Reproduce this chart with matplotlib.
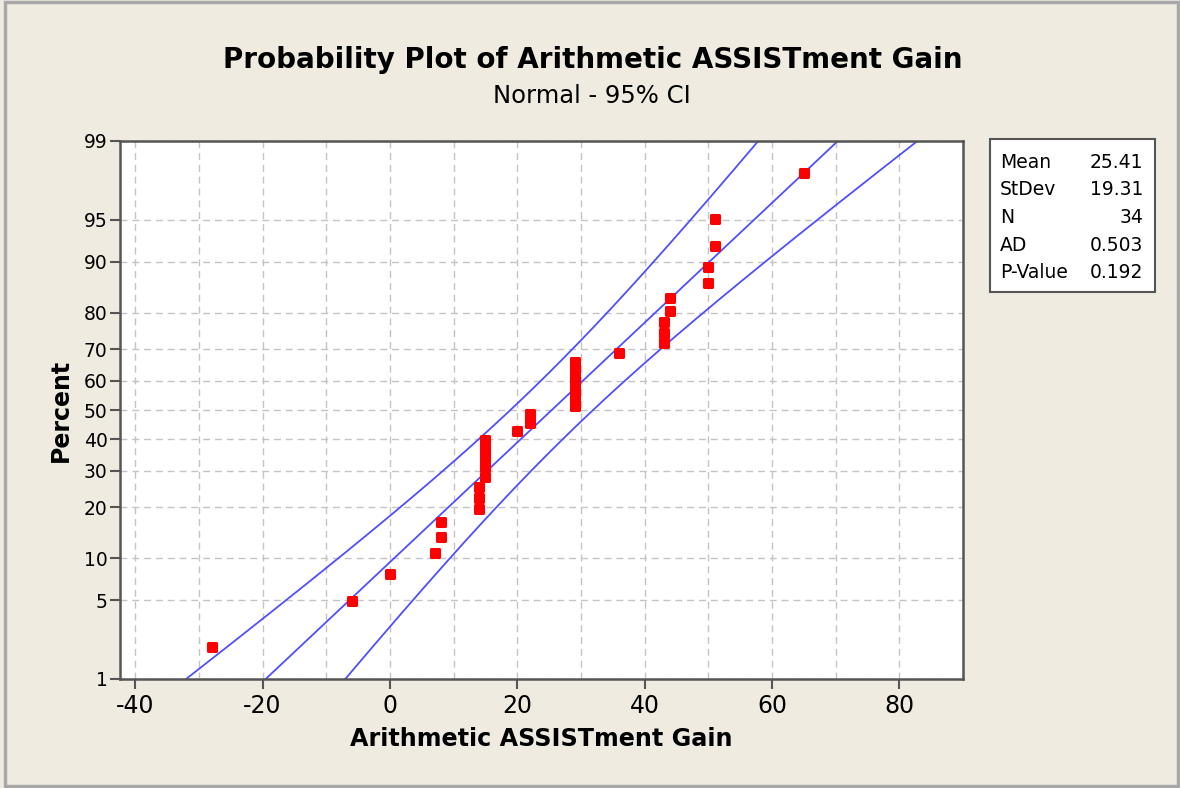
import numpy as np
import matplotlib
matplotlib.use('Agg')
import matplotlib.pyplot as plt
from matplotlib.patches import Rectangle
from matplotlib.markers import MarkerStyle
from statistics import NormalDist

# data
gain = [-28, -6, 0, 7, 8, 8, 14, 14, 14, 15, 15, 15, 15, 15, 20, 22, 22,
        29, 29, 29, 29, 29, 29, 36, 43, 43, 43, 44, 44, 50, 50, 51, 51, 65]
pct_ticks = [1, 5, 10, 20, 30, 40, 50, 60, 70, 80, 90, 95, 99]
x_ticks = [-40, -20, 0, 20, 40, 60, 80]
x_grid = [-40, -30, -20, -10, 0, 10, 20, 30, 40, 50, 60, 70, 80]
stat_names = ['Mean', 'StDev', 'N', 'AD', 'P-Value']
stat_values = ['25.41', '19.31', '34', '0.503', '0.192']

plt.rcParams['font.family'] = ['DejaVu Sans']
plt.rcParams['axes.unicode_minus'] = False

bg = '#EFEBE1'
blue = '#4F4FFF'
frame = '#555555'

# normal probability scale
nd = NormalDist()
_ppf = np.vectorize(nd.inv_cdf, otypes=[float])
_cdf = np.vectorize(nd.cdf, otypes=[float])

def fwd(p):
    p = np.clip(np.asarray(p, dtype=float) / 100.0, 1e-12, 1 - 1e-12)
    return _ppf(p)

def inv(z):
    return _cdf(np.asarray(z, dtype=float)) * 100.0

x = np.array(gain, dtype=float)
n = len(x)
mu = x.mean()
sd = x.std(ddof=1)
ranks = (np.arange(1, n + 1) - 0.3) / (n + 0.4) * 100   # median ranks

z = np.linspace(fwd(pct_ticks[0]), fwd(pct_ticks[-1]), 300)
pz = inv(z)
fit = mu + z * sd
half = nd.inv_cdf(0.975) * sd * np.sqrt(1.0 / n + z ** 2 / (2.0 * n))

fig = plt.figure(figsize=(11.8, 7.88), dpi=100, facecolor=bg)
fig.patches.append(Rectangle((0.004, 0.002), 0.994, 0.995, transform=fig.transFigure,
                             fill=False, edgecolor='#A8A8A8', linewidth=2.5))

ax = fig.add_axes([120 / 1180, 1 - 679 / 788, 843 / 1180, 538 / 788])
ax.set_yscale('function', functions=(fwd, inv))
ax.set_xlim(-42.4, 90)
ax.set_ylim(1, 99)

ax.set_xticks(x_ticks)
ax.set_xticks(x_grid, minor=True)
ax.set_yticks(pct_ticks)
ax.set_yticklabels([str(p) for p in pct_ticks])
ax.yaxis.set_minor_locator(matplotlib.ticker.NullLocator())
ax.tick_params(axis='x', which='major', labelsize=17, length=7, width=1.5, color=frame, pad=4)
ax.tick_params(axis='x', which='minor', length=0)
ax.tick_params(axis='y', labelsize=13.5, length=7, width=1.5, color=frame, pad=2)
for s in ax.spines.values():
    s.set_color(frame)
    s.set_linewidth(1.8)

ax.grid(True, axis='x', which='both', color='#C4C4C4', linestyle=(0, (5, 3.5)), linewidth=1)
ax.grid(True, axis='y', which='major', color='#C4C4C4', linestyle=(0, (5, 3.5)), linewidth=1)
ax.set_axisbelow(True)

ax.plot(fit, pz, color=blue, linewidth=1.3)
ax.plot(fit - half, pz, color=blue, linewidth=1.3)
ax.plot(fit + half, pz, color=blue, linewidth=1.3)
ax.plot(x, ranks, linestyle='none', marker=MarkerStyle('s', joinstyle='round'),
        markersize=5.5, color='#FF0000', markeredgecolor='#FF0000', markeredgewidth=2.2,
        zorder=5)

ax.set_xlabel('Arithmetic ASSISTment Gain', fontsize=17.2, fontweight='bold', labelpad=6)
ax.set_ylabel('Percent', fontsize=17, fontweight='bold', labelpad=8)

fig.text(0.502, 0.924, 'Probability Plot of Arithmetic ASSISTment Gain', ha='center', va='center',
         fontsize=20, fontweight='bold')
fig.text(0.502, 0.878, 'Normal - 95% CI', ha='center', va='center', fontsize=17.5)

# stats box
bx0, by0 = 990 / 1180, 1 - 292 / 788
fig.patches.append(Rectangle((bx0, by0), 165 / 1180, 153 / 788, transform=fig.transFigure,
                             facecolor='white', edgecolor=frame, linewidth=1.5))
for i, (nm, val) in enumerate(zip(stat_names, stat_values)):
    yy = 1 - (162 + i * 27.7) / 788
    fig.text(1000 / 1180, yy, nm, ha='left', va='center', fontsize=13.5)
    fig.text(1143 / 1180, yy, val, ha='right', va='center', fontsize=13.5)

fig.savefig('out.png', dpi=100, facecolor=bg)
